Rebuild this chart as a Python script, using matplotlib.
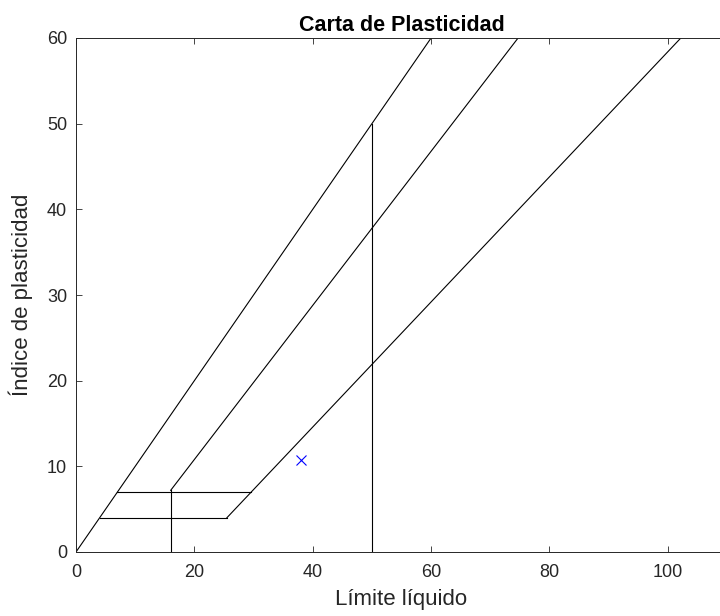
import numpy as np
import matplotlib
matplotlib.use("Agg")
import matplotlib.pyplot as plt

plt.rcParams['font.family'] = ['Liberation Sans', 'DejaVu Sans']

# Chart lines (limite liquido, indice de plasticidad)
linea_pi_ll_x = [0, 60]
linea_pi_ll_y = [0, 60]
linea_u_x = [16, 74.7]
linea_u_y = [7.2, 60]
linea_a_x = [25.5, 102.2]
linea_a_y = [4, 60]
horiz_7_x = [6.9, 29.6]
horiz_7_y = [7, 7]
horiz_4_x = [4, 25.5]
horiz_4_y = [4, 4]
vert_16_x = [16, 16]
vert_16_y = [0, 7.2]
vert_50_x = [50, 50]
vert_50_y = [0, 50]

# Muestra
muestra_ll = [38]
muestra_pi = [10.7]

xticks = [0, 20, 40, 60, 80, 100]
yticks = [0, 10, 20, 30, 40, 50, 60]

gris = (0.15, 0.15, 0.15)

fig = plt.figure(figsize=(7.2, 6.16), dpi=100)
# axes box runs past the right edge of the picture, as in the reference
ax = fig.add_axes([76 / 720, 64 / 616, 651 / 720, 514 / 616])

segmentos = [
    (linea_pi_ll_x, linea_pi_ll_y),
    (linea_u_x, linea_u_y),
    (linea_a_x, linea_a_y),
    (horiz_7_x, horiz_7_y),
    (horiz_4_x, horiz_4_y),
    (vert_16_x, vert_16_y),
    (vert_50_x, vert_50_y),
]
for xs, ys in segmentos:
    ax.plot(xs, ys, color='black', lw=0.8)

ax.plot(muestra_ll, muestra_pi, 'x', color='blue', ms=7, mew=0.8)

ax.set_xlim(0, 110)
ax.set_ylim(0, 60)
ax.set_xticks(xticks)
ax.set_yticks(yticks)
ax.tick_params(direction='in', top=True, right=True, length=4.5, width=0.6,
               colors=gris, labelsize=13, labelcolor=gris)
ax.tick_params(axis='x', pad=8.5)
ax.tick_params(axis='y', pad=6.5)
for s in ax.spines.values():
    s.set_color(gris)
    s.set_linewidth(0.7)

ax.set_title('Carta de Plasticidad', fontsize=15.5, fontweight='bold', pad=5)
ax.set_xlabel('Límite líquido', fontsize=16, color=gris)
ax.xaxis.set_label_coords(0.5, -0.072)
ax.set_ylabel('Índice de plasticidad', fontsize=16, color=gris)
ax.yaxis.set_label_coords(-0.066, 0.5)

fig.savefig('out.png', dpi=100)
